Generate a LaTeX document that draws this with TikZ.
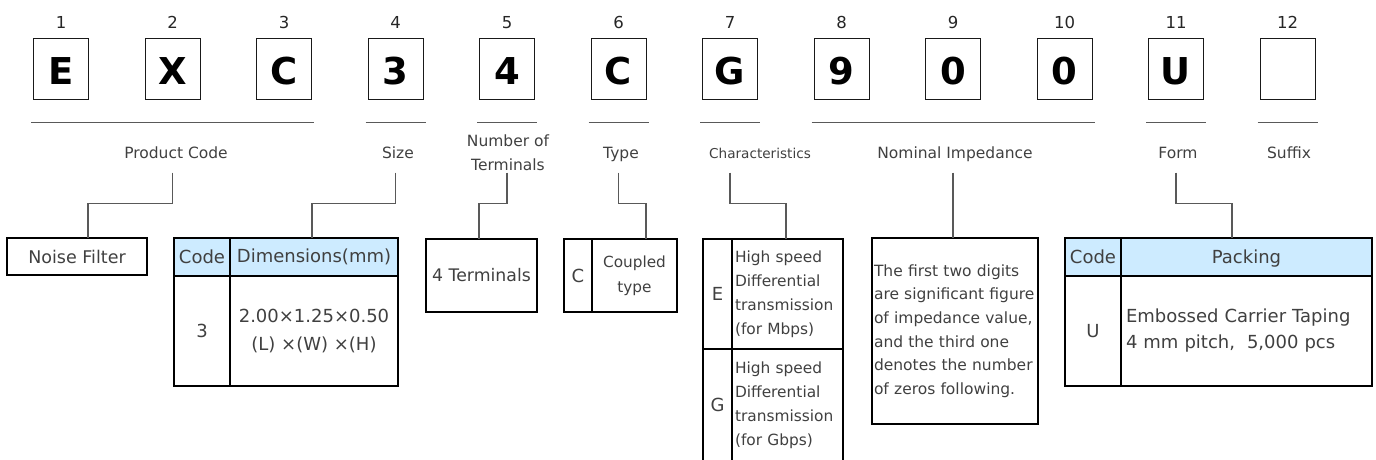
\documentclass[tikz,border=0pt]{standalone}
\usepackage{fontspec}
\setmainfont{DejaVu Sans}
\usetikzlibrary{positioning}
\definecolor{hdrblue}{RGB}{205,235,255}
\definecolor{txtgray}{RGB}{64,64,64}
\definecolor{lngray}{RGB}{89,89,89}

\begin{document}
\begin{tikzpicture}[x=1pt,y=-1pt,
  every node/.style={text=txtgray},
  numlbl/.style={font=\fontsize{16.5}{20}\selectfont, text=black!85, anchor=base},
  codebox/.style={draw=black!90, line width=1pt, minimum width=55pt, minimum height=61pt, inner sep=0pt,
    text height=32pt, text depth=0pt, font=\fontsize{37}{40}\selectfont\bfseries, text=black},
  catlbl/.style={font=\fontsize{15.5}{23.3}\selectfont, align=center},
  uline/.style={draw=lngray, line width=1pt},
  conn/.style={draw=lngray, line width=1.5pt},
  cell/.style={draw=black, line width=1.2pt, outer sep=0pt, inner sep=0pt, font=\fontsize{18}{28}\selectfont},
  hcell/.style={cell, fill=hdrblue},
]
\useasboundingbox (0,0) rectangle (1376,459);
\clip (0,0) rectangle (1376,459);

% part number boxes
\foreach \c [count=\i] in {E,X,C,3,4,C,G,9,0,0,U,{}} {
  \node[numlbl] (n\i) at ({61+(\i-1)*111.5},28.3) {\i};
  \node[codebox] (b\i) at ({61+(\i-1)*111.5},68.5) {\c};
}
\foreach \a/\b in {1/3,4/4,5/5,6/6,7/7,8/10,11/11,12/12}
  \draw[uline] ([xshift=-2pt,yshift=-23pt]b\a.south west) -- ([xshift=2pt,yshift=-23pt]b\b.south east);

% category labels
\node[catlbl, anchor=base] (pc) at (176,158) {Product Code};
\node[catlbl, anchor=base] (sz) at (398,158) {Size};
\node[catlbl] (nt) at (508,152.6) {Number of\\Terminals};
\node[catlbl, anchor=base] (ty) at (621,158) {Type};
\node[catlbl, anchor=base, font=\fontsize{13.6}{16}\selectfont] (ch) at (760,158) {Characteristics};
\node[catlbl, anchor=base] (ni) at (955,158) {Nominal Impedance};
\node[catlbl, anchor=base] (fm) at (1178,158) {Form};
\node[catlbl, anchor=base] (sf) at (1289,158) {Suffix};

% product code
\node[cell, minimum width=140pt, minimum height=37pt, anchor=north west, font=\fontsize{17.5}{21}\selectfont] (nf) at (7,238) {Noise Filter};

% size
\node[hcell, minimum width=56pt, minimum height=38pt, anchor=north west] (szh1) at (174,238) {Code};
\node[hcell, minimum width=168pt, minimum height=38pt, right=0pt of szh1] (szh2) {Dimensions(mm)};
\node[cell, minimum width=56pt, minimum height=110pt, below=0pt of szh1] (szc) {3};
\node[cell, minimum width=168pt, minimum height=110pt, align=center, below=0pt of szh2] (szd) {2.00×1.25×0.50\\(L) ×(W) ×(H)};

% number of terminals
\node[cell, minimum width=111pt, minimum height=73pt, anchor=north west, font=\fontsize{17.3}{21}\selectfont] (ntb) at (426,239) {4 Terminals};

% type
\node[cell, minimum width=28pt, minimum height=73pt, anchor=north west] (tyc) at (564,239) {C};
\node[cell, minimum width=85pt, minimum height=73pt, right=0pt of tyc, align=center, font=\fontsize{15.3}{25}\selectfont] (tyd) {Coupled\\type};

% characteristics
\node[cell, minimum width=29pt, minimum height=110pt, anchor=north west] (chc1) at (703,239) {E};
\node[cell, minimum width=111pt, minimum height=110pt, right=0pt of chc1, text width=105pt, align=left,
  font=\fontsize{15.4}{24}\selectfont] (chd1) {High speed\\Differential\\transmission\\(for Mbps)};
\node[cell, minimum width=29pt, minimum height=112pt, below=0pt of chc1] (chc2) {G};
\node[cell, minimum width=111pt, minimum height=112pt, below=0pt of chd1, text width=105pt, align=left,
  font=\fontsize{15.4}{24}\selectfont] (chd2) {High speed\\Differential\\transmission\\(for Gbps)};

% nominal impedance
\node[cell, minimum width=166pt, minimum height=186pt, anchor=north west, text width=162pt, align=left,
  font=\fontsize{15.5}{23.7}\selectfont] (nib) at (872,238) {The first two digits\\are significant figure\\of impedance value,\\and the third one\\denotes the number\\of zeros following.};

% form
\node[hcell, minimum width=56pt, minimum height=38pt, anchor=north west] (fmh1) at (1065,238) {Code};
\node[hcell, minimum width=251pt, minimum height=38pt, right=0pt of fmh1, text height=13pt, text depth=0pt] (fmh2) {Packing};
\node[cell, minimum width=56pt, minimum height=110pt, below=0pt of fmh1] (fmc) {U};
\node[cell, minimum width=251pt, minimum height=110pt, below=0pt of fmh2, text width=241pt, align=left,
  font=\fontsize{18}{26}\selectfont] (fmd) {Embossed Carrier Taping\\4 mm pitch, \ 5,000 pcs};

% connectors
\draw[conn] ([yshift=-73pt]b2.south) -- ++(0,31) -| ([xshift=11pt]nf.north);
\draw[conn] ([yshift=-73pt]b4.south) -- ++(0,31) -| ([xshift=-2pt]szh2.north);
\draw[conn] ([yshift=-73pt]b5.south) -- ++(0,31) -| ([xshift=-2.5pt]ntb.north);
\draw[conn] ([yshift=-73pt]b6.south) -- ++(0,31) -| ([xshift=11.5pt]tyd.north);
\draw[conn] ([yshift=-73pt]b7.south) -- ++(0,31) -| ([xshift=-1.5pt]chd1.north);
\draw[conn] ([yshift=-73pt]b9.south) -- (b9.south |- nib.north);
\draw[conn] ([yshift=-73pt]b11.south) -- ++(0,31) -| ([xshift=-14.5pt]fmh2.north);
\end{tikzpicture}
\end{document}
